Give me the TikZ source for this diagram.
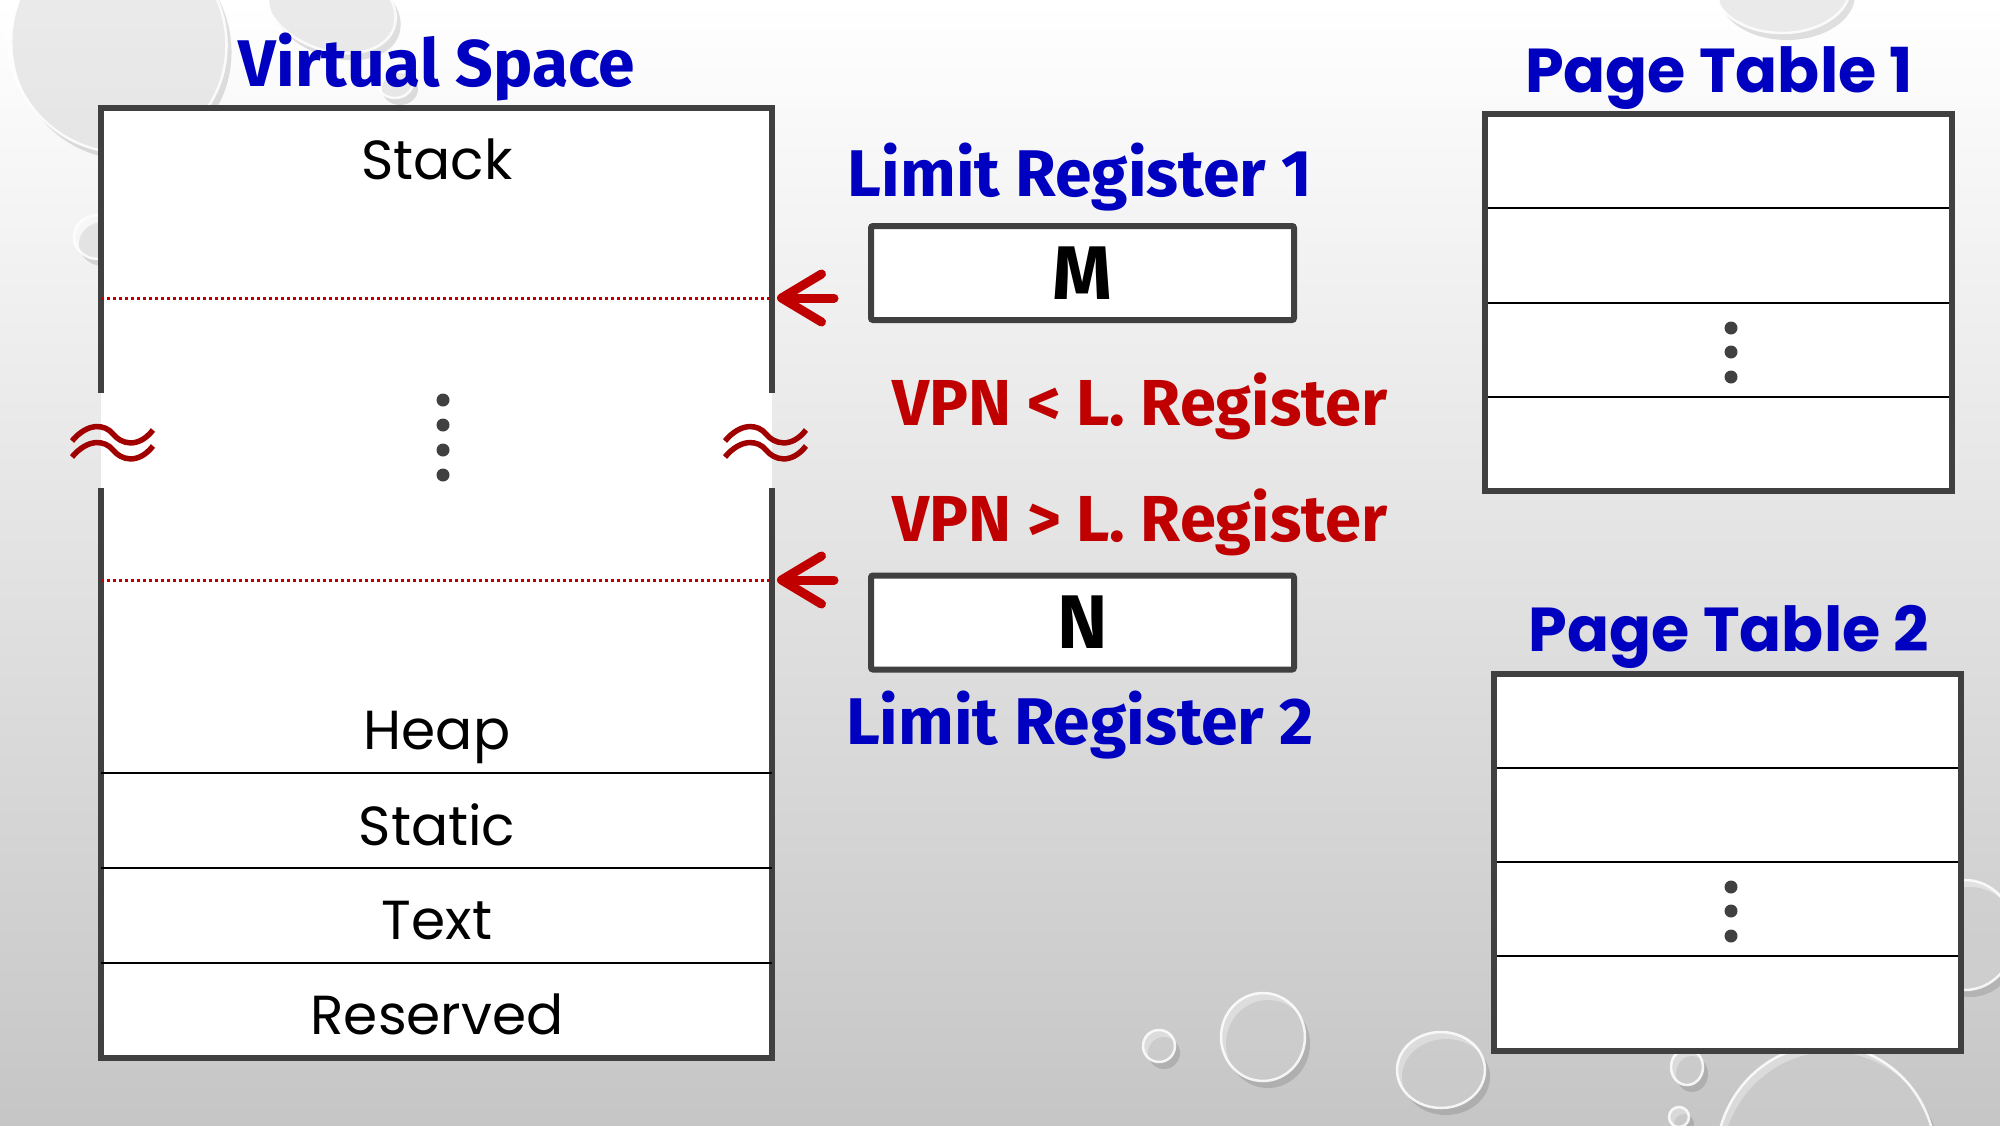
\documentclass[tikz,border=0pt]{standalone}
\usepackage{fontspec}
\setmainfont{Poppins}
\newfontfamily\headfont{Fira Sans}
\newfontfamily\widefont{Poppins}
\usetikzlibrary{arrows.meta}
\definecolor{titleblue}{RGB}{0,0,192}
\definecolor{condred}{RGB}{192,0,0}
\definecolor{wavered}{RGB}{160,0,0}
\definecolor{frame}{RGB}{64,64,64}
% x, y, x radius, y radius, angle
\newcommand{\waterdrop}[5]{%
	\fill[black, opacity=.12, rotate around={#5:(#1+5,#2+7)}] (#1+5,#2+7) ellipse [x radius=#3, y radius=#4];
	\fill[white, opacity=.35, rotate around={#5:(#1,#2)}] (#1,#2) ellipse [x radius=#3, y radius=#4];
	\draw[white, line width=2.5, opacity=.85, rotate around={#5:(#1,#2)}] (#1,#2) ellipse [x radius=#3, y radius=#4];
}

\begin{document}
\begin{tikzpicture}[x=1pt, y=-1pt,
			every node/.style={inner sep=0pt, outer sep=0pt},
			heading/.style={anchor=base, text=titleblue, font=\headfont\bfseries\fontsize{66}{66}\selectfont},
			ptheading/.style={anchor=base, text=titleblue, font=\widefont\bfseries\fontsize{62}{62}\selectfont},
			condition/.style={anchor=base, text=condred, font=\headfont\bfseries\fontsize{65}{65}\selectfont},
			segment/.style={anchor=base, font=\fontsize{55}{55}\selectfont},
			regbox/.style={draw=frame, line width=6, fill=white, rounded corners=2,
				minimum width=423, minimum height=94, font=\headfont\bfseries\fontsize{76}{76}\selectfont},
			frameline/.style={draw=frame, line width=6},
			rowline/.style={draw=black, line width=2.5},
			limitline/.style={draw=condred, line width=3, dash pattern=on 3pt off 3pt},
			limarrow/.style={draw=condred, line width=9, line cap=round,
				-{Straight Barb[length=40pt, width=48pt, round]}},
			wave/.style={draw=wavered, line width=5.5},
			vdot/.style={circle, fill=frame, minimum size=13}]
	\useasboundingbox (0,0) rectangle (2000,1125);
	\shade[top color=white, bottom color=gray!45] (0,0) rectangle (2000,1125);
	% droplets
	\waterdrop{117}{40}{108}{114}{30}
	\waterdrop{330}{5}{68}{45}{-20}
	\waterdrop{98}{237}{24}{22}{0}
	\waterdrop{395}{82}{18}{16}{0}
	\waterdrop{1782}{-12}{68}{45}{0}
	\waterdrop{1159}{1046}{16}{16}{0}
	\waterdrop{1263}{1037}{42}{44}{0}
	\waterdrop{1441}{1070}{44}{38}{0}
	\waterdrop{1687}{1067}{16}{18}{0}
	\waterdrop{1679}{1117}{10}{10}{0}
	\waterdrop{1826}{1160}{110}{115}{0}
	\waterdrop{1965}{935}{50}{55}{0}

	% virtual space
	\node[heading] (vstitle) at (437,86) {Virtual Space};
	\fill[white] (101,108) rectangle (772,1058);
	\draw[frameline] (101,393) -- (101,108) -- (772,108) -- (772,393);
	\draw[frameline] (101,488) -- (101,1058) -- (772,1058) -- (772,488);
	\foreach \y in {773,868,963}
		\draw[rowline] (101,\y) -- (772,\y);
	\node[segment] (stack) at (437,179) {Stack};
	\node[segment] (heap) at (437,749) {Heap};
	\node[segment] (static) at (437,845) {Static};
	\node[segment] (text) at (437,939) {Text};
	\node[segment] (reserved) at (437,1034) {Reserved};
	\foreach \y [count=\i] in {400,425,450,475}
		\node[vdot] (vs\i) at (443,\y) {};
	\foreach \bx in {112,765}
		\foreach \dy in {0,16}
			\draw[wave, shift={(\bx,437+\dy)}] (-40,4) .. controls (-24,-15) and (-7,-13) .. (1,-3)
				.. controls (9,7) and (26,12) .. (41,-7);
	\coordinate (lim1) at (772,298);
	\coordinate (lim2) at (772,580);
	\draw[limitline] (101,298) -- (lim1);
	\draw[limitline] (101,580) -- (lim2);

	% limit registers
	\node[heading] (lr1title) at (1080,196) {Limit Register 1};
	\node[regbox] (m) at (1082.5,273) {M};
	\node[condition] (less) at (1140,425) {VPN < L. Register};
	\node[condition] (greater) at (1140,541) {VPN > L. Register};
	\node[regbox] (n) at (1082.5,622.5) {N};
	\node[heading] (lr2title) at (1080,744) {Limit Register 2};
	\draw[limarrow] ([xshift=-37pt]m.west |- lim1) -- ([xshift=5pt]lim1);
	\draw[limarrow] ([xshift=-37pt]n.west |- lim2) -- ([xshift=5pt]lim2);

	% page tables
	\node[ptheading] (pt1title) at (1719,92) {Page Table 1};
	\fill[white] (1485,113.5) rectangle (1952,491);
	\foreach \y in {208,303,397}
		\draw[rowline] (1485,\y) -- (1952,\y);
	\draw[frameline] (1485,113.5) rectangle (1952,491);
	\foreach \y [count=\i] in {328,352,377}
		\node[vdot] (pa\i) at (1731,\y) {};
	\node[ptheading] (pt2title) at (1729,651) {Page Table 2};
	\fill[white] (1494,673.5) rectangle (1961,1050.5);
	\foreach \y in {768,862,956}
		\draw[rowline] (1494,\y) -- (1961,\y);
	\draw[frameline] (1494,673.5) rectangle (1961,1050.5);
	\foreach \y [count=\i] in {887,911,936}
		\node[vdot] (pb\i) at (1731,\y) {};
\end{tikzpicture}
\end{document}
